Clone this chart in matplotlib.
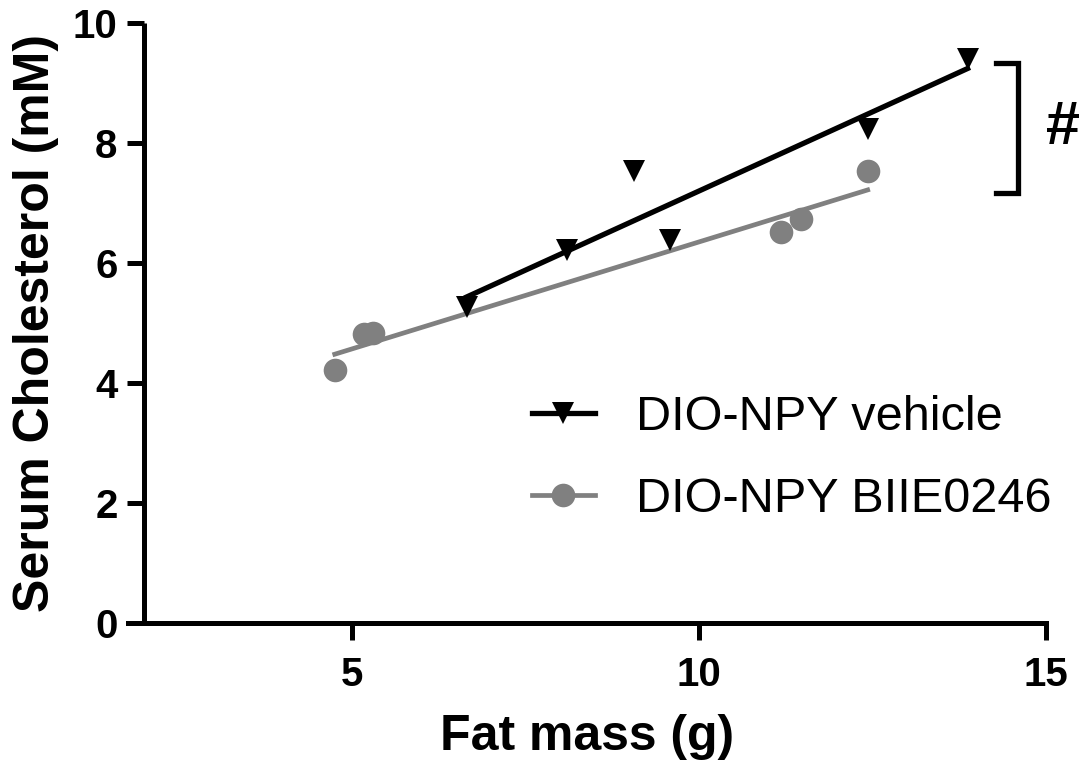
import numpy as np
import matplotlib
matplotlib.use('Agg')
import matplotlib.pyplot as plt

plt.rcParams['font.family'] = ['Liberation Sans', 'DejaVu Sans']

# Data
vehicle_fat = [6.65, 8.10, 9.06, 9.58, 12.43, 13.87]
vehicle_chol = [5.27, 6.22, 7.53, 6.39, 8.24, 9.40]
biie_fat = [4.75, 5.17, 5.30, 11.18, 11.47, 12.43]
biie_chol = [4.22, 4.81, 4.84, 6.52, 6.73, 7.54]

x_ticks = [5, 10, 15]
y_ticks = [0, 2, 4, 6, 8, 10]

black = '#000000'
grey = '#808080'

fig = plt.figure(figsize=(10.81, 7.72), dpi=100)
ax = fig.add_axes([0.1184, 0.193, 0.8492, 0.777])

# Linear fits over each group's range
for xs, ys, col, mk, ms, lw, lab in [
        (vehicle_fat, vehicle_chol, black, 'v', 16, 3.8, 'DIO-NPY vehicle'),
        (biie_fat, biie_chol, grey, 'o', 17, 3.4, 'DIO-NPY BIIE0246')]:
    xs = np.array(xs)
    ys = np.array(ys)
    slope, icpt = np.polyfit(xs, ys, 1)
    xf = np.array([xs.min(), xs.max()])
    ax.plot(xf, slope * xf + icpt, color=col, lw=lw, zorder=2)
    ax.plot(xs, ys, linestyle='none', marker=mk, ms=ms, color=col,
            markeredgewidth=0, zorder=3)
    # legend proxy
    ax.plot([], [], color=col, lw=lw, marker=mk, ms=ms,
            markeredgewidth=0, label=lab)

ax.set_xlim(1.77, 15)
ax.set_ylim(0, 10)
ax.set_xticks(x_ticks)
ax.set_yticks(y_ticks)

for s in ['top', 'right']:
    ax.spines[s].set_visible(False)
ax.spines['left'].set_position(('data', 2))
ax.spines['left'].set_linewidth(3.6)
ax.spines['bottom'].set_linewidth(3.6)
ax.spines['left'].set_capstyle('butt')

ax.tick_params(axis='both', length=12, width=3.6, labelsize=29, color='black')
ax.tick_params(axis='x', pad=12)
ax.tick_params(axis='y', pad=7)
for lbl in ax.get_xticklabels() + ax.get_yticklabels():
    lbl.set_fontweight('bold')

ax.set_xlabel('Fat mass (g)', fontsize=36, fontweight='bold', labelpad=14)
ax.set_ylabel('Serum Cholesterol (mM)', fontsize=36, fontweight='bold', labelpad=10)

leg = ax.legend(loc='upper left', bbox_to_anchor=(0.492, 0.488),
                bbox_transform=fig.transFigure, frameon=False, fontsize=35,
                handlelength=1.3, handletextpad=0.85, labelspacing=0.76,
                borderaxespad=0, borderpad=0)

# Significance bracket
bx0, bx1 = 14.28, 14.6
by0, by1 = 7.17, 9.33
ax.plot([bx0, bx1, bx1, bx0], [by1, by1, by0, by0], color='black', lw=3.8,
        solid_joinstyle='miter', clip_on=False)
ax.text(15.24, (by0 + by1) / 2, '#', fontsize=44, fontweight='bold',
        ha='center', va='center', clip_on=False)

fig.savefig('out.png', dpi=100)
